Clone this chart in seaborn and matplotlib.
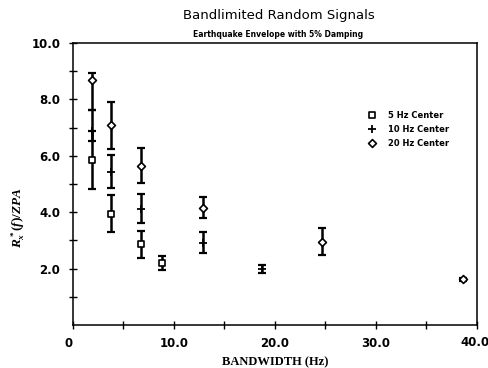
import numpy as np
import pandas as pd
import matplotlib
matplotlib.use("Agg")
import matplotlib.pyplot as plt
import seaborn as sns

# ---- data ----
series_names = ["5 Hz Center", "10 Hz Center", "20 Hz Center"]

bw_5 = [1.9, 3.8, 6.8, 8.8]
val_5 = [5.85, 3.95, 2.88, 2.20]
lo_5 = [4.82, 3.30, 2.38, 1.95]
hi_5 = [6.88, 4.60, 3.33, 2.45]

bw_10 = [1.9, 3.8, 6.8, 12.9, 18.7]
val_10 = [6.88, 5.43, 4.10, 2.92, 2.00]
lo_10 = [6.52, 4.86, 3.60, 2.55, 1.84]
hi_10 = [7.62, 6.03, 4.65, 3.30, 2.13]

bw_20 = [1.9, 3.8, 6.8, 12.9, 24.7, 38.6]
val_20 = [8.70, 7.09, 5.64, 4.15, 2.95, 1.62]
lo_20 = [7.62, 6.24, 5.04, 3.80, 2.48, 1.57]
hi_20 = [8.94, 7.90, 6.28, 4.54, 3.44, 1.67]

x_ticks = [0, 10, 20, 30, 40]
x_ticklabels = ["0", "10.0", "20.0", "30.0", "40.0"]
y_ticks = [2, 4, 6, 8, 10]
y_ticklabels = ["2.0", "4.0", "6.0", "8.0", "10.0"]

sns.set_theme(style="ticks")
plt.rcParams["font.family"] = ["DejaVu Sans"]
plt.rcParams["text.color"] = "black"
plt.rcParams["axes.labelcolor"] = "black"
plt.rcParams["xtick.color"] = "black"
plt.rcParams["ytick.color"] = "black"
plt.rcParams["mathtext.fontset"] = "custom"
plt.rcParams["mathtext.it"] = "Liberation Serif:italic:bold"
plt.rcParams["mathtext.rm"] = "Liberation Serif:bold"
plt.rcParams["mathtext.bf"] = "Liberation Serif:italic:bold"

fig = plt.figure(figsize=(4.88, 3.68), dpi=100)
ax = fig.add_axes([0.149, 0.117, 0.828, 0.766])

data = [
    (series_names[0], bw_5, val_5, lo_5, hi_5, "s"),
    (series_names[1], bw_10, val_10, lo_10, hi_10, "+"),
    (series_names[2], bw_20, val_20, lo_20, hi_20, "D"),
]

for name, xs, ys, lo, hi, mk in data:
    xs = np.array(xs); ys = np.array(ys); lo = np.array(lo); hi = np.array(hi)
    ax.errorbar(xs, ys, yerr=[ys - lo, hi - ys], fmt="none", ecolor="black",
                elinewidth=1.8, capsize=3, capthick=1.6, zorder=2)
    df = pd.DataFrame({"bw": xs, "val": ys})
    if mk == "+":
        sns.scatterplot(data=df, x="bw", y="val", marker="+", s=30, color="black",
                        linewidth=1.3, ax=ax, label=name, zorder=3)
    else:
        sns.scatterplot(data=df, x="bw", y="val", marker=mk,
                        s=22 if mk == "s" else 16,
                        facecolor="white", edgecolor="black", linewidth=1.2,
                        ax=ax, label=name, zorder=3)

ax.set_xlim(0, 40)
ax.set_ylim(0, 10)
ax.set_xticks(x_ticks)
ax.set_xticklabels(x_ticklabels[:-1] + [""], fontsize=8.5, fontweight="bold")
ax.annotate(x_ticklabels[-1], xy=(x_ticks[-1], 0), xycoords="data",
            xytext=(-1.5, -8.3), textcoords="offset points", ha="center", va="top",
            fontsize=8.5, fontweight="bold", annotation_clip=False)
ax.set_xticks([5, 15, 25, 35], minor=True)
ax.set_yticks(y_ticks)
ax.set_yticklabels(y_ticklabels, fontsize=8.5, fontweight="bold")
ax.set_yticks([1, 3, 5, 7, 9], minor=True)
ax.get_xticklabels()[0].set_ha("right")
ax.tick_params(axis="both", which="major", direction="inout", length=6, width=1, pad=6, color="black")
ax.tick_params(axis="both", which="minor", direction="inout", length=6, width=1, color="black")
for sp in ax.spines.values():
    sp.set_visible(True)
    sp.set_linewidth(1.1)
    sp.set_color("black")

ax.set_xlabel("BANDWIDTH (Hz)", family="Liberation Serif", fontweight="bold", fontsize=9)
ax.set_ylabel("")
fig.text(0.037, 0.41, r"$R_x^*(f)/ZPA$", rotation=90, fontsize=9.5,
         ha="center", va="center")

fig.text(0.572, 0.957, "Bandlimited Random Signals", ha="center", va="center", fontsize=9.5)
fig.text(0.570, 0.905, "Earthquake Envelope with 5% Damping", ha="center", va="center",
         fontsize=5.5, fontweight="bold")

leg = ax.legend(loc="upper left", bbox_to_anchor=(0.71, 0.775), frameon=False,
                fontsize=6, handletextpad=0.9, labelspacing=0.6, borderpad=0)
for t in leg.get_texts():
    t.set_fontweight("bold")

fig.savefig("out.png", dpi=100)
